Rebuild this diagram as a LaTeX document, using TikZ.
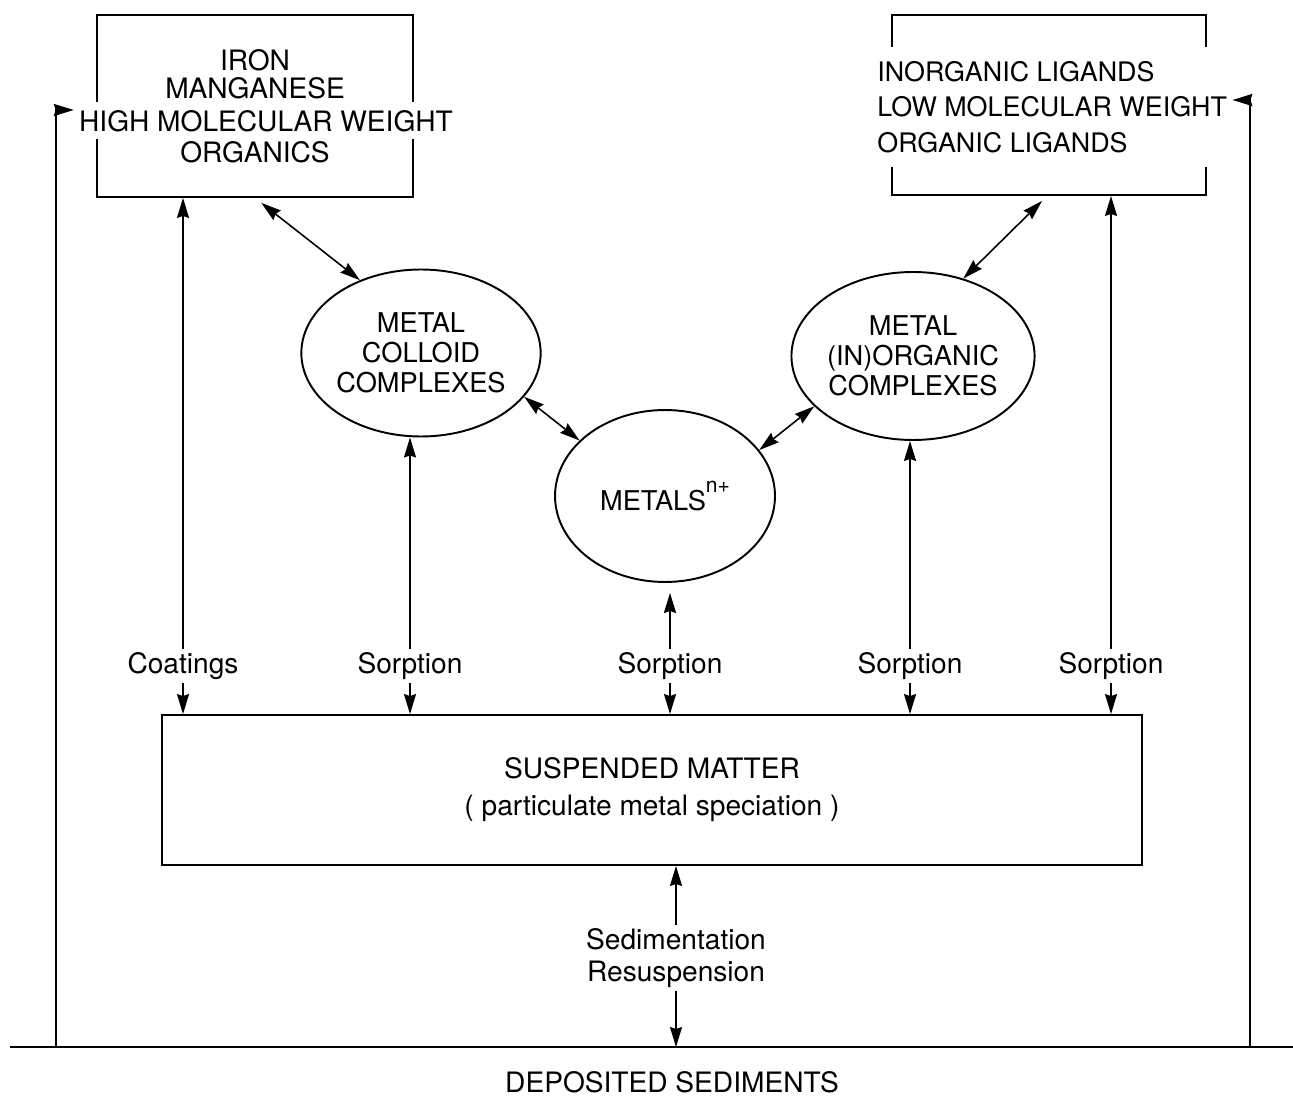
\documentclass[tikz,border=0pt]{standalone}
\usepackage{fontspec}
\setmainfont{TeX Gyre Heros}
\usetikzlibrary{shapes.geometric,arrows.meta}

\tikzset{
  box/.style={draw, line width=1.1pt, inner sep=0pt},
  blob/.style={draw, ellipse, line width=1.1pt, inner sep=0pt, align=center,
    font=\fontsize{15.5}{17}\selectfont},
  lbl/.style={inner sep=2pt, align=center},
  gap/.style={fill=white, inner xsep=0.1cm},
  link/.style={line width=0.9pt, -{Stealth[length=0.4cm,width=0.24cm,inset=0.04cm]}},
  twoway/.style={line width=0.9pt,
    {Stealth[length=0.4cm,width=0.24cm,inset=0.04cm]}-{Stealth[length=0.4cm,width=0.24cm,inset=0.04cm]}},
}

\begin{document}
\begin{tikzpicture}[x=0.02cm,y=-0.02cm,font=\fontsize{16}{19}\selectfont]
\useasboundingbox (0,0) rectangle (1293,1097);

% upper boxes
\node[box, minimum width=6.32cm, minimum height=3.64cm] (fe) at (255,106) {};
\node[lbl] (iron) at (255,60) {IRON};
\node[lbl] (mn) at (255,88) {MANGANESE};
\node[lbl, gap, minimum height=0.74cm] (high) at (266,121) {HIGH MOLECULAR WEIGHT};
\node[lbl] (org) at (255,152) {ORGANICS};

\node[box, minimum width=6.28cm, minimum height=3.6cm] (lbox) at (1049,105) {};
\node[lbl, gap, align=left, anchor=west, minimum height=2.4cm,
  font=\fontsize{15.3}{20.1}\selectfont] (lig) at (872,107)
  {INORGANIC LIGANDS\\LOW MOLECULAR WEIGHT\\ORGANIC LIGANDS};

% dissolved forms
\node[blob, minimum width=4.36cm, minimum height=3.34cm] (colloid) at (421,353) {METAL\\COLLOID\\COMPLEXES};
\node[blob, minimum width=4.28cm, minimum height=3.36cm] (inorg) at (913,356) {METAL\\(IN)ORGANIC\\COMPLEXES};
\node[blob, minimum width=4.4cm, minimum height=3.44cm] (metals) at (665,496)
  {METALS\raisebox{1.3ex}{\fontsize{12}{12}\selectfont n+}};

\draw[twoway, shorten <=0.16cm] (fe.south) -- (colloid.130);
\draw[twoway] (colloid.-23) -- (metals.147);
\draw[twoway] (metals.26) -- (inorg.207);
\draw[twoway] (inorg.57) -- ([xshift=-0.14cm,yshift=-0.1cm]lbox.south);

% particulate phase
\node[box, minimum width=19.62cm, minimum height=3cm, align=center,
  font=\fontsize{16}{21}\selectfont] (sm) at (652,790)
  {SUSPENDED MATTER\\( particulate metal speciation )};

\node[lbl] (coat) at (183,666) {Coatings};
\node[lbl] (s1) at (410,666) {Sorption};
\node[lbl] (s2) at (670,666) {Sorption};
\node[lbl] (s3) at (910,666) {Sorption};
\node[lbl] (s4) at (1111,666) {Sorption};

\draw[link] (coat.north) -- (coat.north |- fe.south);
\draw[link] (s1.north) -- (s1.north |- colloid.south);
\draw[link, line width=1.3pt, shorten >=0.2cm] (s2.north) -- (s2.north |- metals.south);
\draw[link] (s3.north) -- (s3.north |- inorg.south);
\draw[link] (s4.north) -- (s4.north |- lbox.south);
\foreach \s in {coat,s1,s2,s3,s4}
  \draw[link] (\s.south) -- (\s.south |- sm.north);

% bed
\coordinate (gndL) at (10,1047);
\coordinate (gndR) at (1293,1047);
\coordinate (footL) at (56,1047);
\coordinate (footR) at (1250,1047);
\draw[line width=1.3pt] (gndL) -- (gndR);
\node[lbl, inner sep=0pt] (dep) at (672,1082) {DEPOSITED SEDIMENTS};

\node[lbl, font=\fontsize{16}{18}\selectfont] (sed) at (676,958) {Sedimentation\\Resuspension};
\draw[link] (sed.north) -- (sed.north |- sm.south);
\draw[link] (sed.south) -- (sed.south |- gndL);

\draw[link] (footL) |- ([yshift=0.22cm]high.west);
\draw[link] (footR) |- ([yshift=0.14cm]lig.east);
\end{tikzpicture}
\end{document}
